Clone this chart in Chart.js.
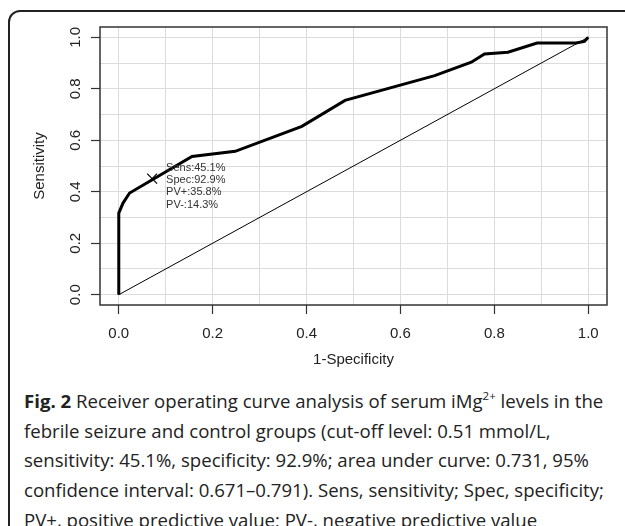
<!DOCTYPE html>
<html>
<head>
<meta charset="utf-8">
<script src="https://cdn.jsdelivr.net/npm/chart.js@4.4.0/dist/chart.umd.min.js"></script>
<style>
    body { margin: 0; background: #fff; overflow: hidden; width: 625px; height: 526px; position: relative; }
    .frame {
        position: absolute; left: 8px; top: 10px; width: 700px; height: 600px;
        border: 2px solid #222; border-radius: 12px 0 0 0;
    }
    #roc { position: absolute; left: 0; top: 0; }
    .caption {
        position: absolute; left: 24px; top: 386px;
        font-family: "Open Sans", sans-serif; font-size: 18.6px; line-height: 29.7px;
        color: #222; white-space: nowrap;
    }
    .caption sup { font-size: 11.5px; line-height: 0; vertical-align: 8px; }
</style>
</head>
<body>
<div class="frame"></div>
<canvas id="roc" width="625" height="380"></canvas>
<div class="caption"><b>Fig. 2</b> Receiver operating curve analysis of serum iMg<sup>2+</sup> levels in the<br>febrile seizure and control groups (cut-off level: 0.51 mmol/L,<br>sensitivity: 45.1%, specificity: 92.9%; area under curve: 0.731, 95%<br>confidence interval: 0.671–0.791). Sens, sensitivity; Spec, specificity;<br>PV+, positive predictive value; PV-, negative predictive value</div>
<script>
// ROC curve points (1-specificity, sensitivity)
const fpr = [0, 0, 0.009, 0.023, 0.156, 0.248, 0.39, 0.482, 0.673, 0.751, 0.779, 0.829, 0.891, 0.974, 0.992, 1.0];
const tpr = [0, 0.317, 0.356, 0.395, 0.537, 0.557, 0.654, 0.755, 0.851, 0.903, 0.935, 0.942, 0.978, 0.978, 0.984, 1.0];

// reference diagonal
const diagX = [0, 1];
const diagY = [0, 1];

// cut-off point and its text
const cutFpr = [0.071];
const cutSens = [0.451];
const cutLabels = ['Sens:45.1%', 'Spec:92.9%', 'PV+:35.8%', 'PV-:14.3%'];

// axis ticks and grid
const tickVals = [0, 0.2, 0.4, 0.6, 0.8, 1.0];
const gridVals = [0, 0.1, 0.2, 0.3, 0.4, 0.5, 0.6, 0.7, 0.8, 0.9, 1.0];

const FONT = '"Liberation Sans", Arial, sans-serif';

const toPoints = (xs, ys) => xs.map((x, i) => ({ x: x, y: ys[i] }));
const isTick = v => tickVals.some(t => Math.abs(t - v) < 1e-6);

// box round the plot + the cut-off text
const boxPlugin = {
    id: 'boxAndText',
    afterDatasetsDraw(chart) {
        const { ctx, chartArea: a, scales } = chart;
        ctx.save();
        ctx.strokeStyle = '#333';
        ctx.lineWidth = 1.5;
        ctx.strokeRect(a.left, a.top, a.right - a.left, a.bottom - a.top);

        const px = scales.x.getPixelForValue(cutFpr[0]);
        const py = scales.y.getPixelForValue(cutSens[0]);
        ctx.fillStyle = '#333';
        ctx.font = '11px ' + FONT;
        ctx.textAlign = 'left';
        ctx.textBaseline = 'middle';
        cutLabels.forEach((t, i) => {
            ctx.fillText(t, px + 14, py - 11 + i * 12.4);
        });
        ctx.restore();
    }
};

const axisCommon = (title) => ({
    type: 'linear',
    min: -0.04,
    max: 1.04,
    afterBuildTicks: (scale) => {
        scale.ticks = gridVals.map(v => ({ value: v }));
    },
    border: { display: false },
    grid: {
        color: '#dcdcdc',
        lineWidth: 1,
        tickLength: 9,
        tickWidth: 1.2,
        tickColor: (c) => isTick(c.tick.value) ? '#333' : 'rgba(0,0,0,0)'
    },
    ticks: {
        autoSkip: false,
        color: '#222',
        font: { family: FONT, size: 15 },
        callback: (v) => isTick(v) ? Number(v).toFixed(1) : ''
    },
    title: {
        display: true,
        text: title,
        color: '#222',
        font: { family: FONT, size: 15 }
    }
});

const xAxis = axisCommon('1-Specificity');
xAxis.ticks.maxRotation = 0;
xAxis.ticks.padding = 11;
xAxis.title.padding = { top: 0, bottom: 11 };
xAxis.afterFit = (scale) => { scale.height = 75; };

const yAxis = axisCommon('Sensitivity');
yAxis.ticks.minRotation = 90;
yAxis.ticks.maxRotation = 90;
yAxis.ticks.crossAlign = 'center';
yAxis.ticks.padding = 4.5;
yAxis.title.padding = { top: 11, bottom: 0 };
yAxis.afterFit = (scale) => { scale.width = 80; };

new Chart(document.getElementById('roc'), {
    type: 'scatter',
    data: {
        datasets: [
            {
                label: 'ROC',
                data: toPoints(fpr, tpr),
                showLine: true,
                borderColor: '#000',
                borderWidth: 3,
                pointRadius: 0,
                tension: 0
            },
            {
                label: 'Reference',
                data: toPoints(diagX, diagY),
                showLine: true,
                borderColor: '#000',
                borderWidth: 1,
                pointRadius: 0
            },
            {
                label: 'Cut-off',
                data: toPoints(cutFpr, cutSens),
                showLine: false,
                pointStyle: 'crossRot',
                pointRadius: 7,
                borderColor: '#000',
                borderWidth: 1.2
            }
        ]
    },
    options: {
        responsive: false,
        animation: false,
        events: [],
        layout: { padding: { left: 20, top: 27, right: 18, bottom: 0 } },
        plugins: {
            legend: { display: false },
            tooltip: { enabled: false }
        },
        scales: { x: xAxis, y: yAxis }
    },
    plugins: [boxPlugin]
});
</script>
</body>
</html>
